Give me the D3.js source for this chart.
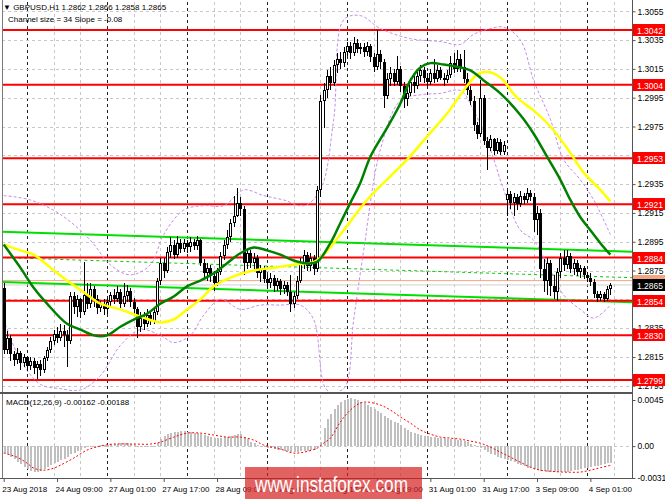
<!DOCTYPE html>
<html><head><meta charset="utf-8">
<script src="https://cdn.jsdelivr.net/npm/d3@7/dist/d3.min.js"></script>
<style>
html,body{margin:0;padding:0;background:#fff;}
svg{display:block;font-family:"Liberation Sans",Arial,sans-serif;}
</style></head><body>
<svg id="chart" width="665" height="499"></svg>
<script>
// ---------------- DATA ----------------
const symbolTitle = "\u25BC GBPUSD,H1  1.2862 1.2866 1.2858 1.2865";
const channelTitle = "Channel size = 34 Slope = -0.08";
const macdTitle = "MACD(12,26,9) -0.00162 -0.00188";

const closes = [1.2820,1.2828,1.2817,1.2813,1.2818,1.2811,1.2815,1.2809,1.2812,1.2807,
1.2810,1.2806,1.2814,1.2820,1.2826,1.2831,1.2828,1.2833,1.2830,1.2826,
1.2857,1.2850,1.2855,1.2846,1.2858,1.2852,1.2862,1.2855,1.2849,1.2852,
1.2848,1.2853,1.2858,1.2855,1.2860,1.2852,1.2857,1.2861,1.2853,1.2848,
1.2836,1.2842,1.2838,1.2844,1.2840,1.2846,1.2868,1.2880,1.2875,1.2888,
1.2893,1.2886,1.2894,1.2890,1.2894,1.2891,1.2895,1.2892,1.2896,1.2880,
1.2873,1.2877,1.2871,1.2866,1.2874,1.2885,1.2893,1.2898,1.2908,1.2913,
1.2922,1.2918,1.2880,1.2887,1.2880,1.2884,1.2873,1.2876,1.2869,1.2866,
1.2870,1.2864,1.2868,1.2862,1.2865,1.2860,1.2852,1.2857,1.2868,1.2880,
1.2886,1.2878,1.2884,1.2876,1.2931,1.2993,1.3000,1.3010,1.3005,1.3018,
1.3022,1.3019,1.3027,1.3031,1.3026,1.3033,1.3029,1.3030,1.3027,1.3031,
1.3023,1.3016,1.3025,1.3020,1.2996,1.3008,1.3012,1.3006,1.3015,1.3003,
1.2994,1.2998,1.3006,1.3003,1.3010,1.3014,1.3009,1.3006,1.3012,1.3008,
1.3014,1.3009,1.3007,1.3011,1.3019,1.3015,1.3022,1.3016,1.3008,1.3000,
1.2993,1.2976,1.2970,1.2995,1.2965,1.2960,1.2966,1.2958,1.2964,1.2957,
1.2962,1.2928,1.2922,1.2926,1.2921,1.2927,1.2924,1.2929,1.2926,1.2910,
1.2915,1.2876,1.2868,1.2880,1.2864,1.2860,1.2874,1.2884,1.2879,1.2885,
1.2876,1.2880,1.2874,1.2877,1.2872,1.2870,1.2867,1.2859,1.2856,1.2859,
1.2855,1.2862,1.2865];

const highs = [1.2866,1.2833,1.2830,1.2819,1.2821,1.2819,1.2817,1.2816,1.2815,1.2814,
1.2812,1.2813,1.2816,1.2822,1.2829,1.2834,1.2836,1.2838,1.2837,1.2834,
1.2860,1.2860,1.2858,1.2856,1.2881,1.2866,1.2866,1.2864,1.2858,1.2854,
1.2855,1.2856,1.2860,1.2862,1.2864,1.2862,1.2866,1.2865,1.2863,1.2856,
1.2850,1.2846,1.2846,1.2848,1.2847,1.2849,1.2870,1.2884,1.2884,1.2891,
1.2898,1.2896,1.2899,1.2897,1.2897,1.2896,1.2898,1.2897,1.2899,1.2897,
1.2883,1.2880,1.2879,1.2875,1.2877,1.2888,1.2896,1.2903,1.2911,1.2927,
1.2932,1.2926,1.2920,1.2890,1.2889,1.2887,1.2886,1.2879,1.2878,1.2872,
1.2873,1.2872,1.2870,1.2869,1.2868,1.2867,1.2872,1.2860,1.2871,1.2884,
1.2889,1.2888,1.2887,1.2886,1.2934,1.2997,1.3005,1.3014,1.3016,1.3021,
1.3026,1.3027,1.3030,1.3034,1.3034,1.3037,1.3036,1.3033,1.3033,1.3034,
1.3032,1.3026,1.3042,1.3028,1.3022,1.3012,1.3016,1.3015,1.3024,1.3017,
1.3006,1.3002,1.3009,1.3010,1.3013,1.3018,1.3016,1.3012,1.3015,1.3022,
1.3018,1.3016,1.3012,1.3014,1.3024,1.3026,1.3028,1.3025,1.3028,1.3012,
1.3003,1.2996,1.2978,1.3007,1.2997,1.2968,1.2969,1.2967,1.2967,1.2966,
1.2965,1.2931,1.2930,1.2929,1.2928,1.2930,1.2929,1.2932,1.2931,1.2929,
1.2920,1.2918,1.2883,1.2884,1.2882,1.2872,1.2877,1.2887,1.2889,1.2889,
1.2887,1.2883,1.2882,1.2879,1.2878,1.2874,1.2873,1.2869,1.2861,1.2861,
1.2860,1.2864,1.2866];

const lows = [1.2817,1.2817,1.2812,1.2809,1.2810,1.2806,1.2808,1.2805,1.2806,1.2803,
1.2800,1.2802,1.2804,1.2812,1.2818,1.2823,1.2825,1.2826,1.2822,1.2808,
1.2824,1.2845,1.2843,1.2842,1.2844,1.2848,1.2849,1.2850,1.2845,1.2846,
1.2844,1.2845,1.2850,1.2852,1.2853,1.2849,1.2850,1.2853,1.2850,1.2845,
1.2828,1.2832,1.2834,1.2836,1.2837,1.2838,1.2844,1.2865,1.2870,1.2873,
1.2884,1.2883,1.2884,1.2887,1.2888,1.2887,1.2888,1.2889,1.2889,1.2878,
1.2870,1.2868,1.2867,1.2861,1.2864,1.2872,1.2882,1.2890,1.2895,1.2905,
1.2912,1.2913,1.2872,1.2876,1.2877,1.2875,1.2870,1.2867,1.2866,1.2862,
1.2863,1.2860,1.2861,1.2858,1.2859,1.2857,1.2846,1.2849,1.2855,1.2866,
1.2876,1.2875,1.2875,1.2872,1.2874,1.2926,1.2974,1.2995,1.3000,1.3003,
1.3012,1.3015,1.3016,1.3024,1.3022,1.3024,1.3026,1.3025,1.3023,1.3024,
1.3020,1.3013,1.3014,1.3015,1.2988,1.2994,1.3003,1.3003,1.3004,1.2999,
1.2988,1.2989,1.2996,1.2998,1.3001,1.3006,1.3005,1.3003,1.3004,1.3005,
1.3006,1.3007,1.3003,1.3005,1.3009,1.3012,1.3013,1.3013,1.3005,1.2997,
1.2990,1.2972,1.2966,1.2968,1.2962,1.2945,1.2958,1.2955,1.2956,1.2955,
1.2955,1.2913,1.2918,1.2913,1.2917,1.2919,1.2921,1.2922,1.2923,1.2902,
1.2900,1.2870,1.2860,1.2858,1.2857,1.2855,1.2854,1.2870,1.2875,1.2876,
1.2873,1.2872,1.2871,1.2870,1.2869,1.2867,1.2864,1.2856,1.2853,1.2854,
1.2853,1.2854,1.2858];

// opens equal the previous close, except where the series starts or gaps
const openGapBars = [0, 151];
const openGapPrices = [1.2863, 1.2924];

// MACD main line (histogram) per bar
const macdHist = [-0.00068,-0.00078,-0.00108,-0.00127,-0.00157,-0.00176,-0.00205,-0.00225,-0.00245,-0.00254,
-0.00254,-0.00245,-0.00225,-0.00205,-0.00186,-0.00166,-0.00157,-0.00137,-0.00127,-0.00108,
-0.00078,-0.00068,-0.00049,-0.00039,-0.00020,-0.00010,-0.00003,0.00001,0.00006,0.00008,
0.00010,0.00015,0.00018,0.00020,0.00025,0.00028,0.00030,0.00030,0.00024,0.00014,
0.00002,-0.00002,-0.00003,-0.00002,0.00002,0.00006,0.00028,0.00065,0.00095,0.00115,
0.00130,0.00135,0.00140,0.00144,0.00146,0.00140,0.00135,0.00130,0.00125,0.00115,
0.00105,0.00095,0.00085,0.00075,0.00075,0.00080,0.00085,0.00090,0.00100,0.00110,
0.00120,0.00115,0.00085,0.00065,0.00045,0.00030,0.00010,-0.00002,-0.00010,-0.00018,
-0.00024,-0.00030,-0.00036,-0.00040,-0.00045,-0.00050,-0.00058,-0.00060,-0.00056,-0.00050,
-0.00046,-0.00045,-0.00042,-0.00038,-0.00010,0.00040,0.00175,0.00260,0.00310,0.00360,
0.00400,0.00430,0.00450,0.00460,0.00465,0.00460,0.00450,0.00435,0.00420,0.00405,
0.00385,0.00360,0.00345,0.00320,0.00290,0.00270,0.00255,0.00240,0.00225,0.00205,
0.00180,0.00155,0.00140,0.00125,0.00115,0.00110,0.00100,0.00095,0.00090,0.00085,
0.00080,0.00075,0.00075,0.00070,0.00068,0.00065,0.00060,0.00055,0.00048,0.00038,
0.00025,0.00010,-0.00005,-0.00015,-0.00040,-0.00060,-0.00075,-0.00090,-0.00105,-0.00115,
-0.00125,-0.00135,-0.00145,-0.00160,-0.00175,-0.00190,-0.00200,-0.00210,-0.00215,-0.00225,
-0.00230,-0.00240,-0.00245,-0.00250,-0.00253,-0.00255,-0.00252,-0.00254,-0.00258,-0.00256,
-0.00240,-0.00235,-0.00230,-0.00224,-0.00218,-0.00212,-0.00205,-0.00200,-0.00194,-0.00186,
-0.00178,-0.00170,-0.00162];

// MACD signal line, read at these bars
const signalBars = [0,4,7,9,12,15,17,21,25,29,33,39,44,47,51,55,59,63,67,71,75,78,83,87,90,94,96,98,101,104,107,109,113,116,119,122,125,128,131,134,137,140,143,146,149,152,155,158,161,164,167,170,173,176,179,182];
const signalVals = [-0.00068,-0.00108,-0.00166,-0.00215,-0.00235,-0.00215,-0.00186,-0.00117,-0.00039,0.00000,
0.00020,0.00020,0.00020,0.00039,0.00088,0.00127,0.00127,0.00108,0.00088,0.00088,
0.00059,0.00010,-0.00029,-0.00068,-0.00059,-0.00020,0.00029,0.00078,0.00235,0.00352,
0.00421,0.00430,0.00401,0.00352,0.00284,0.00225,0.00157,0.00117,0.00088,0.00078,
0.00068,0.00049,0.00029,-0.00010,-0.00059,-0.00108,-0.00157,-0.00205,-0.00235,-0.00245,
-0.00252,-0.00255,-0.00253,-0.00235,-0.00210,-0.00188];

// moving averages read at these bars
const yellowBars = [0,5,9,14,19,24,29,35,41,47,51,55,59,63,69,75,81,87,93,96,102,109,118,121,127,133,138,142,145,149,154,159,164,169,174,179,182];
const yellowVals = [1.2893,1.2889,1.2886,1.2877,1.2868,1.2860,1.2852,1.2848,1.2843,1.2839,
1.2841,1.2848,1.2855,1.2864,1.2871,1.2875,1.2877,1.2879,1.2881,1.2886,
1.2903,1.2924,1.2945,1.2952,1.2968,1.2984,1.3000,1.3011,1.3013,1.3009,
1.2995,1.2986,1.2975,1.2960,1.2943,1.2931,1.2923];
const greenBars = [0,5,9,13,19,23,27,31,35,39,43,47,51,55,59,63,67,71,75,79,83,87,91,94,98,101,104,107,110,115,119,122,125,128,132,137,140,144,149,155,159,163,167,170,173,176,179,182];
const greenVals = [1.2893,1.2877,1.2863,1.2852,1.2838,1.2834,1.2830,1.2830,1.2836,1.2841,
1.2845,1.2852,1.2857,1.2864,1.2868,1.2873,1.2880,1.2887,1.2891,1.2889,
1.2886,1.2882,1.2880,1.2881,1.2894,1.2908,1.2922,1.2936,1.2954,1.2974,
1.2991,1.3007,1.3016,1.3019,1.3018,1.3016,1.3014,1.3007,1.2998,1.2983,
1.2970,1.2954,1.2938,1.2924,1.2912,1.2903,1.2894,1.2886];

// purple bands read at these bars
const bandUpBars = [0,8,17,26,32,38,44,48,54,60,66,72,78,84,90,95,99,102,107,113,122,131,137,141,146,150,155,159,164,168,173,177,182];
const bandUpVals = [1.2927,1.2924,1.2914,1.2896,1.2879,1.2872,1.2879,1.2900,1.2917,1.2920,
1.2920,1.2931,1.2927,1.2924,1.2920,1.2931,1.2980,1.3049,1.3052,1.3043,
1.3036,1.3034,1.3032,1.3039,1.3043,1.3044,1.3035,1.3007,1.2980,1.2952,
1.2938,1.2924,1.2900];
const bandLoBars = [0,5,11,17,23,29,35,41,47,51,56,60,65,71,77,83,89,93,97,102,105,108,113,119,125,131,137,141,146,150,155,159,164,168,173,177,182];
const bandLoVals = [1.2841,1.2813,1.2796,1.2793,1.2792,1.2802,1.2823,1.2834,1.2830,1.2825,
1.2830,1.2844,1.2855,1.2848,1.2851,1.2851,1.2851,1.2841,1.2792,1.2793,
1.2841,1.2889,1.2959,1.2993,1.2997,1.2998,1.3000,1.2986,1.2959,1.2931,
1.2903,1.2896,1.2875,1.2858,1.2848,1.2842,1.2851];

// regression channel end points
const channelBars = [-1, 189];
const channelUpper = [1.2902, 1.2888];
const channelMid = [1.2884, 1.2870];
const channelLower = [1.2867, 1.2853];

const levels = [1.3042, 1.3004, 1.2953, 1.2921, 1.2884, 1.2854, 1.2830, 1.2799];
const bidPrice = 1.2865, askPrice = 1.2868;
const priceTicks = [1.3055,1.3035,1.3015,1.2995,1.2975,1.2955,1.2935,1.2915,1.2895,1.2875,1.2855,1.2835,1.2815,1.2795];
const macdTicks = [0.0045, 0, -0.00311];
const macdTickLabels = ["0.0045", "0.00", "-0.00311"];
const timeLabelBars = [0,16,32,48,64,80,96,112,128,144,160,176];
const timeLabels = ["23 Aug 2018","24 Aug 09:00","27 Aug 01:00","27 Aug 17:00","28 Aug 09:00","29 Aug 01:00","29 Aug 17:00","30 Aug 09:00","31 Aug 01:00","31 Aug 17:00","3 Sep 09:00","4 Sep 01:00"];
const daySeparatorBars = [7,31,55,79,103,127,151,175];
const watermark = "www.instaforex.com";

// ---------------- DRAWING ----------------
const W = 665, H = 499;
const L = 2, R = 632, mTop = 2, mBot = 391, dTop = 395, dBot = 478;
const BAR = 10/3;
const x = d3.scaleLinear().domain([0, 1]).range([3.7, 3.7 + BAR]);
const y = d3.scaleLinear().domain([1.2799, 1.3042]).range([380, 30]);
const ym = d3.scaleLinear().domain([-0.00311, 0.0045]).range([478, 400]);
const crisp = v => Math.round(v) + 0.5;
const FS = 8.5, FT = 8;
const FONT = "Liberation Sans, Arial, sans-serif";

const svg = d3.select("#chart");
svg.append("rect").attr("width", W).attr("height", H).attr("fill", "#fff");
const defs = svg.append("defs");
defs.append("clipPath").attr("id", "cm").append("rect").attr("x", L).attr("y", mTop).attr("width", R - L).attr("height", mBot - mTop);
defs.append("clipPath").attr("id", "cd").append("rect").attr("x", L).attr("y", dTop).attr("width", R - L).attr("height", dBot - dTop);

const gm = svg.append("g").attr("clip-path", "url(#cm)");
const gd = svg.append("g").attr("clip-path", "url(#cd)");

// grid
const gridBars = d3.range(-1, 190, 8);
[[gm, mTop, mBot], [gd, dTop, dBot]].forEach(([g, t, b]) => {
  g.selectAll(null).data(gridBars).join("line")
    .attr("x1", d => crisp(x(d))).attr("x2", d => crisp(x(d)))
    .attr("y1", t).attr("y2", b)
    .attr("stroke", d => daySeparatorBars.includes(d) ? "#222" : "#c8c8c8")
    .attr("stroke-dasharray", "3,3").attr("stroke-width", 1);
});
gm.selectAll(null).data(priceTicks).join("line")
  .attr("x1", L).attr("x2", R).attr("y1", d => crisp(y(d))).attr("y2", d => crisp(y(d)))
  .attr("stroke", "#c8c8c8").attr("stroke-dasharray", "3,3");
gd.append("line").attr("x1", L).attr("x2", R).attr("y1", crisp(ym(0))).attr("y2", crisp(ym(0)))
  .attr("stroke", "#c8c8c8").attr("stroke-dasharray", "3,3");

// bid / ask lines
gm.append("line").attr("x1", L).attr("x2", R).attr("y1", y(askPrice)).attr("y2", y(askPrice)).attr("stroke", "#f4a582").attr("stroke-width", 1);
gm.append("line").attr("x1", L).attr("x2", R).attr("y1", y(bidPrice)).attr("y2", y(bidPrice)).attr("stroke", "#d0d0d0").attr("stroke-width", 1);

// channel
const chLine = vals => d3.line().x((d, i) => x(channelBars[i])).y(d => y(d))(vals);
gm.append("path").attr("d", chLine(channelUpper)).attr("stroke", "#00e000").attr("stroke-width", 2).attr("fill", "none");
gm.append("path").attr("d", chLine(channelMid)).attr("stroke", "#00d000").attr("stroke-width", 1).attr("stroke-dasharray", "3,3").attr("fill", "none");
gm.append("path").attr("d", chLine(channelLower)).attr("stroke", "#00e000").attr("stroke-width", 2).attr("fill", "none");

// red levels
gm.selectAll(null).data(levels).join("line")
  .attr("x1", L).attr("x2", R).attr("y1", d => y(d)).attr("y2", d => y(d))
  .attr("stroke", "#ff0000").attr("stroke-width", 2);

// purple bands
const curve = d3.curveCatmullRom.alpha(0.5);
const band = (bars, vals) => d3.line().curve(curve).x((d, i) => x(bars[i])).y(d => y(d))(vals);
gm.append("path").attr("d", band(bandUpBars, bandUpVals)).attr("stroke", "#c98be6").attr("stroke-width", 1).attr("stroke-dasharray", "3,2").attr("fill", "none");
gm.append("path").attr("d", band(bandLoBars, bandLoVals)).attr("stroke", "#c98be6").attr("stroke-width", 1).attr("stroke-dasharray", "3,2").attr("fill", "none");

// candles
const bars = closes.map((c, i) => {
  const gi = openGapBars.indexOf(i);
  const o = gi >= 0 ? openGapPrices[gi] : closes[i - 1];
  return {i, o, c, h: Math.max(highs[i], o, c), l: Math.min(lows[i], o, c)};
});
const cg = gm.append("g").attr("shape-rendering", "crispEdges");
bars.forEach(b => {
  const cx = Math.round(x(b.i));
  cg.append("line").attr("x1", cx + 0.5).attr("x2", cx + 0.5).attr("y1", y(b.h)).attr("y2", y(b.l)).attr("stroke", "#000");
  const top = Math.round(y(Math.max(b.o, b.c))), bot = Math.round(y(Math.min(b.o, b.c)));
  const hgt = Math.max(1, bot - top);
  if (b.c >= b.o) {
    cg.append("rect").attr("x", cx - 0.5).attr("y", top + 0.5).attr("width", 2).attr("height", Math.max(0, hgt - 1))
      .attr("fill", "#fff").attr("stroke", "#000");
  } else {
    cg.append("rect").attr("x", cx - 1).attr("y", top).attr("width", 3).attr("height", hgt).attr("fill", "#000");
  }
});

// moving averages
const maLine = (bs, vals) => d3.line().curve(curve).x((d, i) => x(bs[i])).y(d => y(d))(vals);
gm.append("path").attr("d", maLine(yellowBars, yellowVals)).attr("stroke", "#ffff00").attr("stroke-width", 2.5).attr("fill", "none");
gm.append("path").attr("d", maLine(greenBars, greenVals)).attr("stroke", "#008000").attr("stroke-width", 2.5).attr("fill", "none");

// MACD
gd.append("g").attr("shape-rendering", "crispEdges").selectAll(null).data(macdHist).join("rect")
  .attr("x", (d, i) => Math.round(x(i)) - 0.5).attr("width", 2)
  .attr("y", d => Math.round(Math.min(ym(d), ym(0))))
  .attr("height", d => Math.max(1, Math.round(Math.abs(ym(d) - ym(0)))))
  .attr("fill", "#c0c0c0");
gd.append("path").attr("d", d3.line().curve(curve).x((d, i) => x(signalBars[i])).y(d => ym(d))(signalVals))
  .attr("stroke", "#ff0000").attr("stroke-width", 1).attr("stroke-dasharray", "2,2").attr("fill", "none");

// frames
const frame = svg.append("g").attr("shape-rendering", "crispEdges");
frame.append("line").attr("x1", L + 0.5).attr("x2", L + 0.5).attr("y1", 0).attr("y2", dBot).attr("stroke", "#7a7a7a");
frame.append("line").attr("x1", R + 0.5).attr("x2", R + 0.5).attr("y1", 0).attr("y2", dBot + 1).attr("stroke", "#555");
frame.append("rect").attr("x", 0).attr("y", mBot + 1).attr("width", R + 1).attr("height", 2).attr("fill", "#555");
frame.append("line").attr("x1", 0).attr("x2", R + 1).attr("y1", dBot + 0.5).attr("y2", dBot + 0.5).attr("stroke", "#555");

// price axis
const pa = svg.append("g").attr("transform", `translate(${R + 0.5},0)`)
  .call(d3.axisRight(y).tickValues(priceTicks).tickSize(3).tickPadding(2).tickFormat(d3.format(".4f")));
pa.select(".domain").remove();
pa.selectAll("text").attr("font-size", FS).attr("fill", "#000").attr("font-family", FONT);
pa.selectAll("line").attr("stroke", "#555");

// macd axis
const ma = svg.append("g").attr("transform", `translate(${R + 0.5},0)`)
  .call(d3.axisRight(ym).tickValues(macdTicks).tickSize(3).tickPadding(2).tickFormat((d, i) => macdTickLabels[i]));
ma.select(".domain").remove();
ma.selectAll("text").attr("font-size", FS).attr("fill", "#000").attr("font-family", FONT);
ma.selectAll("line").attr("stroke", "#555");

// time axis
const ta = svg.append("g").attr("transform", `translate(0,${dBot})`)
  .call(d3.axisBottom(x).tickValues(timeLabelBars).tickSize(4).tickPadding(4).tickFormat((d, i) => timeLabels[i]));
ta.select(".domain").remove();
ta.selectAll("text").attr("font-size", FT).attr("fill", "#000").attr("text-anchor", "start").attr("dx", -2)
  .attr("font-family", FONT);
ta.selectAll("line").attr("stroke", "#555");

// level labels on axis
const labelG = svg.append("g");
function priceLabel(v, bg, fg, txt) {
  const yy = Math.round(y(v));
  labelG.append("rect").attr("x", R + 1).attr("y", yy - 6).attr("width", W - R - 1).attr("height", 12).attr("fill", bg);
  labelG.append("text").attr("x", R + 5).attr("y", yy + 3.5).attr("font-size", FS).attr("fill", fg).attr("font-family", FONT).text(txt);
}
levels.forEach(v => priceLabel(v, "#ff0000", "#fff", d3.format(".4f")(v)));
priceLabel(askPrice, "#f4a582", "#000", d3.format(".4f")(askPrice));
priceLabel(bidPrice, "#000", "#fff", d3.format(".4f")(bidPrice));

// titles
svg.append("text").attr("x", 3).attr("y", 10).attr("font-size", FT).attr("fill", "#000").text(symbolTitle);
svg.append("text").attr("x", 8).attr("y", 22).attr("font-size", FT).attr("fill", "#000").text(channelTitle);
svg.append("text").attr("x", 6).attr("y", 405).attr("font-size", FT).attr("fill", "#000").text(macdTitle);

// watermark
svg.append("rect").attr("x", 245).attr("y", 467).attr("width", 177).attr("height", 32).attr("fill", "rgba(214,32,32,0.70)");
svg.append("text").attr("x", 255).attr("y", 492).attr("font-size", 22)
  .attr("textLength", 153).attr("lengthAdjust", "spacingAndGlyphs")
  .attr("fill", "#fff").attr("font-family", FONT).text(watermark);
</script></body></html>
